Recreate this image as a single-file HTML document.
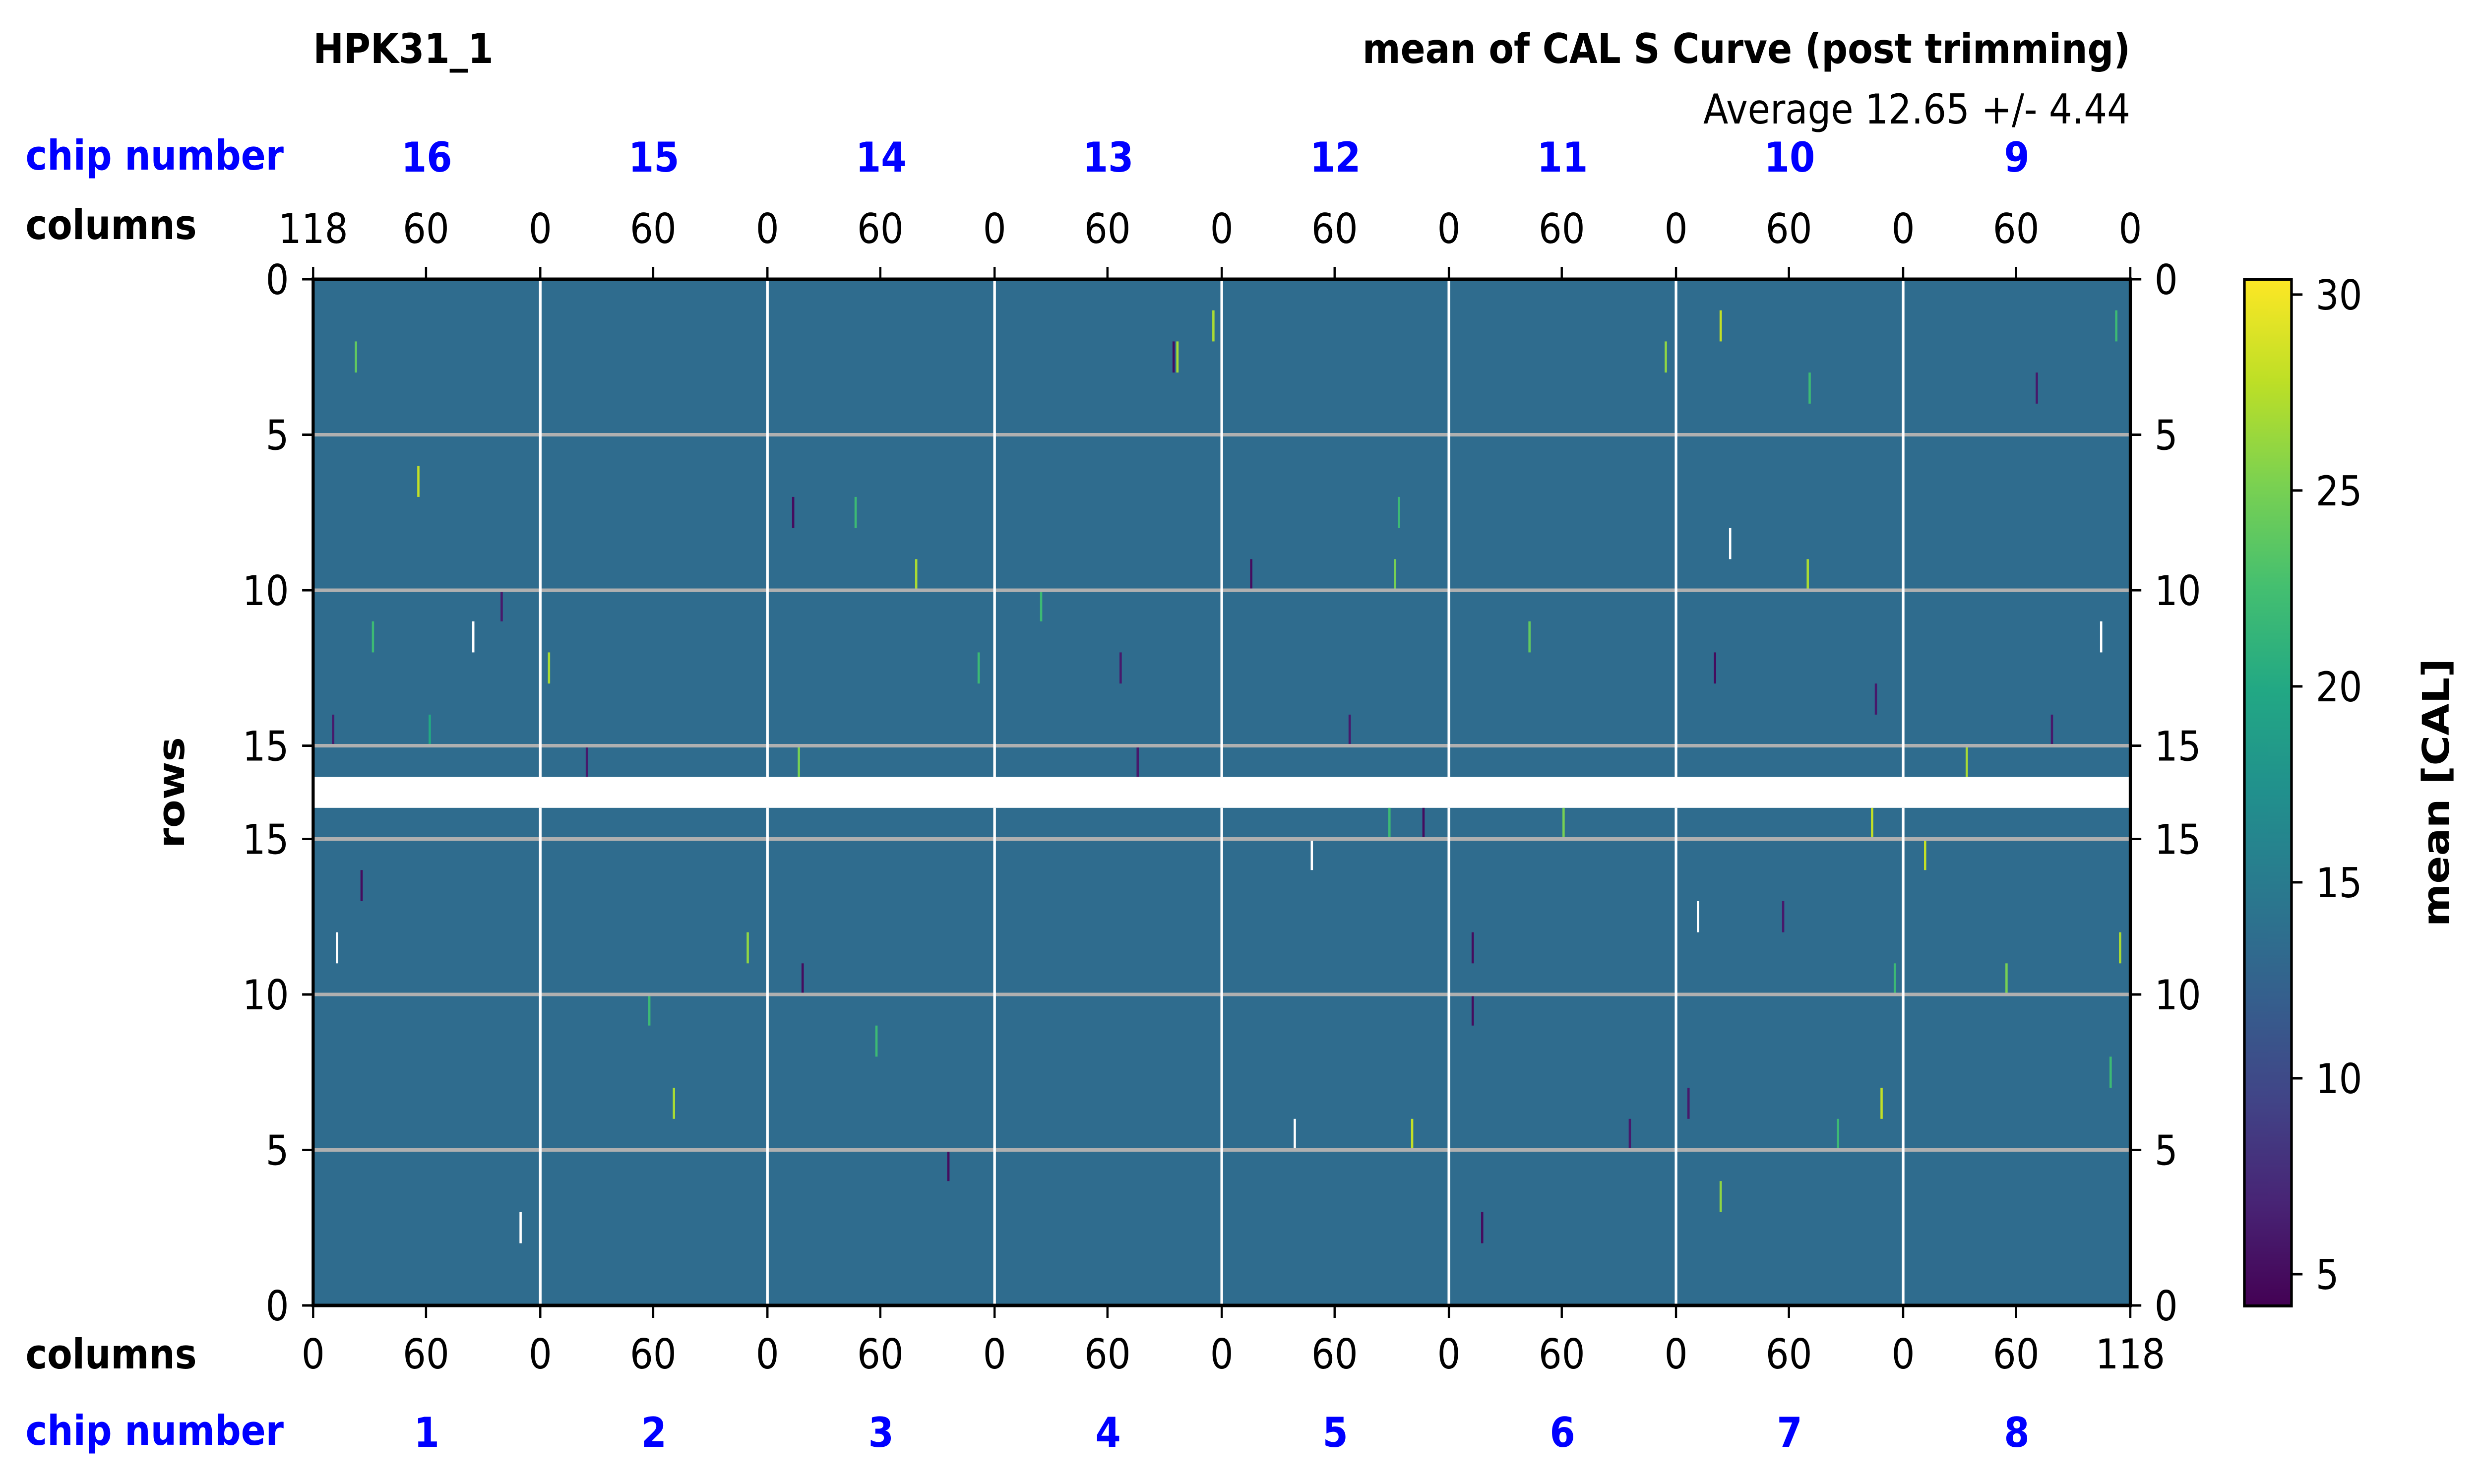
<!DOCTYPE html>
<html><head><meta charset="utf-8">
<style>
html,body{margin:0;padding:0;background:#fff;width:100%;height:100%;overflow:hidden;}
svg{display:block;width:100vw;height:100vh;}
text{font-family:"DejaVu Sans","Liberation Sans",sans-serif;}
</style></head>
<body>
<svg id="chart" viewBox="0 0 5631 2992" preserveAspectRatio="none" xmlns="http://www.w3.org/2000/svg">
<text x="711" y="127" font-size="83" font-weight="bold">HPK31_1</text>
<text x="4837" y="127" font-size="83" font-weight="bold" text-anchor="end">mean of CAL S Curve (post trimming)</text>
<text x="4837" y="249" font-size="83" text-anchor="end">Average 12.65 +/- 4.44</text>
<text x="58" y="342" font-size="83" font-weight="bold" fill="#0000ff">chip number</text>
<text x="58" y="482" font-size="83" font-weight="bold">columns</text>
<text x="58" y="2759" font-size="83" font-weight="bold">columns</text>
<text x="58" y="2913" font-size="83" font-weight="bold" fill="#0000ff">chip number</text>
<text transform="translate(418,1598) rotate(-90)" font-size="83" font-weight="bold" text-anchor="middle">rows</text>
<text transform="translate(5560,1598) rotate(-90)" font-size="83" font-weight="bold" text-anchor="middle">mean [CAL]</text>
<g id="cells"></g>
<g id="overlay"></g>
<g id="cbar"></g>
</svg>
<script>
// ---- data ----
const chipsTop = [16,15,14,13,12,11,10,9];
const chipsBottom = [1,2,3,4,5,6,7,8];
const colTicksTop = ['118','60','0'];
const colTicksBottom = ['0','60','118'];
const rowTicks = [0,5,10,15];
const cbarTicks = [5,10,15,20,25,30];
const baseValue = 13.4;
// outliers: global column (0..960 from left), row, value
const topCols = [22,55,84,124,31,10,99,61,144,256,318,286,253,384,351,454,456,475,495,571,573,642,714,743,748,789,740,790,825,873,918,944,952,910,435,547,426];
const topRows = [2,6,11,12,11,14,10,14,15,15,9,7,7,10,12,2,2,1,9,9,7,11,2,1,8,9,12,3,13,15,14,11,1,3,15,14,12];
const topVals = [24,28,32,27,22,6,6,20,6,25,27,22,5,22,22,5,27,27,5,25,22,24,26,28,32,27,5,22,6,27,6,31,22,6,6,6,6];
const botCols = [12,25,109,190,177,229,297,258,335,527,518,580,586,568,660,612,612,617,731,743,823,828,851,894,954,805,726,695,949,835,776];
const botRows = [11,13,2,6,9,11,8,10,4,14,5,5,15,15,15,9,11,2,12,3,15,6,14,10,11,5,6,5,7,10,12];
const botVals = [32,5,32,27,22,26,22,5,5,32,32,28,5,22,25,5,5,5,32,26,28,28,28,25,27,22,6,6,22,22,6];

// ---- geometry ----
const X0=711, X1=4837, TOP0=563, ROWH=62.7, BOT1=2632;
const NCOL=960, NROW=16, VMIN=4.19, VMAX=30.39;
const colW=(X1-X0)/NCOL, chipW=(X1-X0)/8;
const xCol=c=>X0+c*colW;
const yTop=r=>TOP0+r*ROWH;
const yBot=r=>BOT1-r*ROWH;
const CB_X=5096, CB_W=107, CB_T=563, CB_B=2633;
const yCb=v=>CB_B-(v-VMIN)/(VMAX-VMIN)*(CB_B-CB_T);
const FS=83;

const vir=[[68,1,84],[72,36,117],[65,68,135],[53,95,141],[42,120,142],[33,144,141],[34,168,132],[68,191,112],[122,209,81],[189,223,38],[253,231,37]];
function viridis(v){
  if(v>VMAX) return '#ffffff';
  let t=Math.max(0,Math.min(1,(v-VMIN)/(VMAX-VMIN)))*10;
  let i=Math.min(9,Math.floor(t)), f=t-i;
  const a=vir[i],b=vir[i+1];
  return 'rgb('+a.map((x,k)=>Math.round(x+(b[k]-x)*f)).join(',')+')';
}
const NS='http://www.w3.org/2000/svg';
function mk(tag,attrs,parent,txt){
  const e=document.createElementNS(NS,tag);
  for(const k in attrs) e.setAttribute(k,attrs[k]);
  if(txt!==undefined) e.textContent=txt;
  parent.appendChild(e); return e;
}
const cells=document.getElementById('cells');
const ov=document.getElementById('overlay');
const cb=document.getElementById('cbar');

let bg=mk('rect',{x:X0,y:TOP0,width:X1-X0,height:NROW*ROWH,fill:viridis(baseValue)},cells);


bg=mk('rect',{x:X0,y:yBot(NROW),width:X1-X0,height:NROW*ROWH,fill:viridis(baseValue)},cells);



for(let i=0;i<topCols.length;i++){
  const r=mk('rect',{x:xCol(topCols[i]),y:yTop(topRows[i]),width:colW*1.2,height:ROWH,fill:viridis(topVals[i])},cells);
  
  
}
for(let i=0;i<botCols.length;i++){
  const r=mk('rect',{x:xCol(botCols[i]),y:yBot(botRows[i]+1),width:colW*1.2,height:ROWH,fill:viridis(botVals[i])},cells);
  
  
}

rowTicks.slice(1).forEach(t=>{
  let l=mk('line',{x1:X0,x2:X1,y1:yTop(t),y2:yTop(t),stroke:'#b0b0b0','stroke-width':7},ov);
  
  
  l=mk('line',{x1:X0,x2:X1,y1:yBot(t),y2:yBot(t),stroke:'#b0b0b0','stroke-width':7},ov);
  
  
});
for(let k=1;k<8;k++){
  const x=X0+k*chipW;
  let l=mk('line',{x1:x,x2:x,y1:TOP0,y2:yTop(NROW),stroke:'#fff','stroke-width':6},ov);
  
  
  l=mk('line',{x1:x,x2:x,y1:yBot(NROW),y2:BOT1,stroke:'#fff','stroke-width':6},ov);
  
  
}
[[X0,TOP0,X1,TOP0],[X0,BOT1,X1,BOT1],[X0,TOP0,X0,BOT1],[X1,TOP0,X1,BOT1]].forEach(s=>{
  const l=mk('line',{x1:s[0],y1:s[1],x2:s[2],y2:s[3],stroke:'#000','stroke-width':7,'stroke-linecap':'square'},ov);
  
  
});
const tickFrac=[0,0.497,1];
for(let k=0;k<8;k++){
  const cx=X0+k*chipW;
  let t=mk('text',{x:cx+chipW/2,y:346,'font-size':FS,'font-weight':'bold',fill:'#0000ff','text-anchor':'middle'},ov,String(chipsTop[k]));
  
  
  t=mk('text',{x:cx+chipW/2,y:2917,'font-size':FS,'font-weight':'bold',fill:'#0000ff','text-anchor':'middle'},ov,String(chipsBottom[k]));
  
  
  for(let j=0;j<3;j++){
    if(k>0 && j===0) continue;
    const x=cx+tickFrac[j]*chipW;
    let l=mk('line',{x1:x,x2:x,y1:TOP0,y2:TOP0-25,stroke:'#000','stroke-width':5},ov);
    
    
    l=mk('line',{x1:x,x2:x,y1:BOT1,y2:BOT1+25,stroke:'#000','stroke-width':5},ov);
    
    
    t=mk('text',{x:x,y:490,'font-size':FS,'text-anchor':'middle'},ov,colTicksTop[j]);
    
    
    t=mk('text',{x:x,y:2759,'font-size':FS,'text-anchor':'middle'},ov,k===7&&j===2?'118':(j===2?'0':colTicksBottom[j]));
    
    
  }
}
rowTicks.forEach(v=>{
  [yTop(v),yBot(v)].forEach(y=>{
    let l=mk('line',{x1:X0-25,x2:X0,y1:y,y2:y,stroke:'#000','stroke-width':5},ov);
    
    
    l=mk('line',{x1:X1,x2:X1+25,y1:y,y2:y,stroke:'#000','stroke-width':5},ov);
    
    
    let t=mk('text',{x:X0-55,y:y+30,'font-size':FS,'text-anchor':'end'},ov,String(v));
    
    
    t=mk('text',{x:X1+55,y:y+30,'font-size':FS},ov,String(v));
    
    
  });
});
const defs=mk('defs',{},cb);
const grad=mk('linearGradient',{id:'vg',x1:0,y1:1,x2:0,y2:0},defs);
vir.forEach((c,i)=>mk('stop',{offset:i/10,'stop-color':'rgb('+c.join(',')+')'},grad));
let cr=mk('rect',{x:CB_X,y:CB_T,width:CB_W,height:CB_B-CB_T,fill:'url(#vg)',stroke:'#000','stroke-width':6},cb);


cbarTicks.forEach(v=>{
  const y=yCb(v);
  let l=mk('line',{x1:CB_X+CB_W,x2:CB_X+CB_W+25,y1:y,y2:y,stroke:'#000','stroke-width':5},cb);
  
  
  let t=mk('text',{x:CB_X+CB_W+55,y:y+30,'font-size':FS},cb,String(v));
  
  
});
</script>
</body></html>
